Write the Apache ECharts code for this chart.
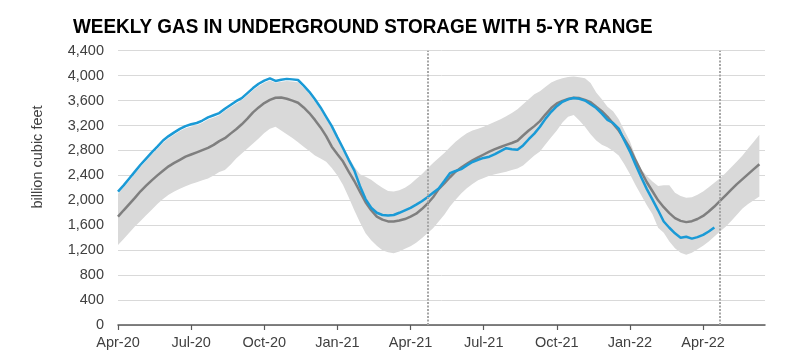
<!DOCTYPE html>
<html>
<head>
<meta charset="utf-8">
<script src="https://cdn.jsdelivr.net/npm/echarts@6/dist/echarts.min.js"></script>
<style>
html,body{margin:0;padding:0;background:#fff;}
#chart{width:789px;height:361px;}
</style>
</head>
<body>
<div id="chart"></div>
<script>
// Weekly categories (EIA report weeks, Fridays) starting 2020-04-03, 116 weeks
var startDate = '2020-04-03';
var weekCount = 116;
var weeks = [];
(function(){
  var d0 = new Date(startDate + 'T00:00:00Z');
  for (var i = 0; i < weekCount; i++) {
    var d = new Date(d0.getTime() + i * 7 * 86400000);
    weeks.push(d.toISOString().slice(0, 10));
  }
})();

var tickLabels = ['Apr-20','Jul-20','Oct-20','Jan-21','Apr-21','Jul-21','Oct-21','Jan-22','Apr-22'];

// Actual storage, Bcf (through 2022-04-15)
var actual = [
 2140,2240,2350,2460,2570,2670,2770,2860,2960,3030,
 3090,3145,3190,3220,3240,3280,3330,3365,3400,3470,
 3530,3590,3640,3720,3800,3870,3920,3955,3915,3935,
 3948,3940,3930,3840,3740,3620,3490,3340,3190,3010,
 2836,2650,2480,2230,2020,1880,1800,1765,1755,1765,
 1800,1840,1880,1930,1985,2050,2120,2190,2310,2435,
 2470,2500,2560,2615,2650,2680,2700,2740,2790,2836,
 2820,2810,2880,2980,3070,3180,3310,3420,3510,3580,
 3620,3640,3630,3600,3540,3480,3390,3290,3240,3150,
 2960,2782,2570,2370,2180,2010,1840,1660,1560,1470,
 1400,1415,1385,1410,1445,1500,1565
];

// 5-year average, Bcf
var avg5 = [
 1738,1840,1940,2040,2145,2235,2320,2400,2475,2545,
 2600,2650,2700,2735,2770,2805,2840,2890,2950,2996,
 3070,3140,3220,3310,3410,3490,3560,3610,3645,3650,
 3630,3600,3565,3490,3400,3290,3170,3030,2860,2740,
 2621,2460,2310,2140,1970,1840,1738,1690,1662,1660,
 1675,1700,1740,1785,1860,1945,2050,2180,2270,2370,
 2460,2525,2585,2640,2690,2735,2780,2820,2855,2889,
 2920,2955,3040,3120,3190,3270,3380,3480,3555,3595,
 3625,3645,3640,3610,3575,3500,3430,3340,3230,3120,
 2980,2836,2640,2460,2290,2145,2000,1890,1795,1715,
 1670,1650,1665,1700,1750,1820,1900,1990,2080,2170,
 2260,2340,2420,2500,2579
];

// 5-year range minimum, Bcf
var rangeMin = [
 1284,1380,1480,1580,1670,1760,1850,1940,2020,2090,
 2140,2185,2225,2260,2290,2320,2350,2400,2455,2488,
 2570,2670,2750,2830,2910,2990,3080,3150,3180,3120,
 3060,3000,2930,2860,2790,2720,2670,2620,2520,2400,
 2247,2050,1840,1650,1470,1360,1270,1200,1165,1150,
 1180,1225,1265,1320,1390,1470,1552,1660,1770,1900,
 2010,2110,2194,2260,2320,2360,2395,2420,2440,2460,
 2485,2510,2560,2640,2720,2782,2900,3010,3120,3250,
 3340,3370,3280,3180,3060,2960,2890,2850,2790,2720,
 2580,2420,2240,2080,1920,1775,1560,1480,1340,1230,
 1160,1125,1160,1215,1270,1340,1420,1500,1575,1670,
 1770,1870,1940,2000,2060
];

// 5-year range maximum, Bcf
var rangeMax = [
 2105,2205,2315,2425,2535,2635,2735,2825,2925,2995,
 3055,3110,3155,3185,3205,3245,3295,3330,3365,3435,
 3495,3555,3605,3685,3765,3835,3885,3920,3885,3900,
 3913,3905,3895,3805,3705,3585,3455,3305,3160,2975,
 2850,2700,2540,2420,2380,2330,2260,2200,2150,2140,
 2160,2200,2260,2340,2420,2510,2600,2680,2760,2850,
 2940,3010,3077,3120,3150,3180,3220,3260,3300,3350,
 3400,3460,3540,3620,3700,3750,3820,3890,3930,3959,
 3980,3986,3975,3960,3880,3730,3620,3500,3430,3300,
 3120,2942,2700,2500,2390,2300,2230,2240,2240,2120,
 2070,2040,2050,2090,2140,2210,2280,2354,2440,2530,
 2621,2720,2830,2940,3050
];

// Week markers (dotted verticals)
var markerWeeks = ['2021-04-23', '2022-04-22'];

var rangeSpan = rangeMax.map(function(v, i){ return v - rangeMin[i]; });

var chart = echarts.init(document.getElementById('chart'), null, {renderer: 'canvas'});
chart.setOption({
  animation: false,
  backgroundColor: '#ffffff',
  graphic: [{
    type: 'text',
    x: 73,
    y: 27,
    scaleX: 0.9,
    style: {
      text: 'WEEKLY GAS IN UNDERGROUND STORAGE WITH 5-YR RANGE',
      fontFamily: '"Liberation Sans", Arial, sans-serif',
      fontWeight: 'bold',
      fontSize: 21,
      fill: '#000000',
      align: 'left',
      verticalAlign: 'middle'
    }
  }, {
    type: 'text',
    x: 38,
    y: 157,
    rotation: Math.PI / 2,
    style: {
      text: 'billion cubic feet',
      fontFamily: '"Liberation Sans", Arial, sans-serif',
      fontSize: 14.5,
      fill: '#404040',
      align: 'center',
      verticalAlign: 'middle'
    }
  }],
  grid: { left: 118, right: 24, top: 50.7, bottom: 36, containLabel: false },
  xAxis: {
    type: 'category',
    data: weeks,
    boundaryGap: false,
    axisLine: { show: true, lineStyle: { color: '#595959', width: 1.5 } },
    axisTick: { show: true, interval: 12, length: 5, lineStyle: { color: '#595959', width: 1.2 } },
    axisLabel: {
      interval: 12,
      margin: 10,
      color: '#404040',
      fontFamily: '"Liberation Sans", Arial, sans-serif',
      fontSize: 14.5,
      formatter: function (v, idx) { return tickLabels[Math.round(idx / 13)] || ''; }
    },
    splitLine: { show: false }
  },
  yAxis: {
    type: 'value',
    min: 0,
    max: 4400,
    interval: 400,
    axisLine: { show: false },
    axisTick: { show: false },
    axisLabel: {
      margin: 14,
      color: '#404040',
      fontFamily: '"Liberation Sans", Arial, sans-serif',
      fontSize: 14.5,
      formatter: function (v) { return v.toLocaleString('en-US'); }
    },
    splitLine: { show: true, lineStyle: { color: '#d9d9d9', width: 1 } }
  },
  series: [
    {
      name: 'min',
      type: 'line',
      stack: 'band',
      data: rangeMin,
      symbol: 'none',
      lineStyle: { opacity: 0 },
      silent: true,
      z: 1
    },
    {
      name: 'range',
      type: 'line',
      stack: 'band',
      data: rangeSpan,
      symbol: 'none',
      lineStyle: { opacity: 0 },
      areaStyle: { color: '#d9d9d9', opacity: 1 },
      silent: true,
      z: 1,
      markLine: {
        silent: true,
        symbol: ['none', 'none'],
        label: { show: false },
        lineStyle: { color: '#a6a6a6', width: 2, type: [2, 1.5] },
        data: markerWeeks.map(function (w) { return { xAxis: w }; })
      }
    },
    {
      name: '5-yr average',
      type: 'line',
      data: avg5,
      symbol: 'none',
      lineStyle: { color: '#7f7f7f', width: 2.5 },
      z: 3
    },
    {
      name: 'Actual',
      type: 'line',
      data: actual,
      symbol: 'none',
      lineStyle: { color: '#1a9ad6', width: 2.5 },
      z: 4
    }
  ]
});
</script>
</body>
</html>
